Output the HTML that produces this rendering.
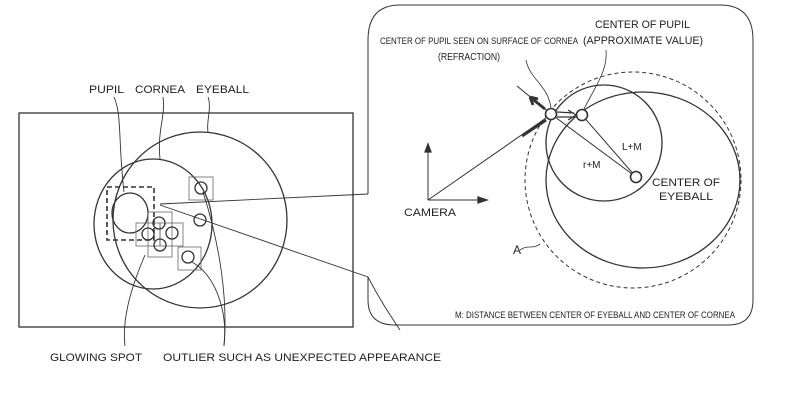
<!DOCTYPE html>
<html><head><style>
body{margin:0;background:#fff;}
svg{display:block;font-family:"Liberation Sans",sans-serif;}
</style></head><body>
<svg width="786" height="415" viewBox="0 0 786 415" xmlns="http://www.w3.org/2000/svg">
<g fill="none" stroke="#333" stroke-width="1.3">
<!-- left panel -->
<rect x="19" y="113" width="334" height="214"/>
<ellipse cx="200" cy="220" rx="87" ry="88"/>
<ellipse cx="153" cy="224" rx="59" ry="65"/>
<ellipse cx="130" cy="213" rx="18" ry="20"/>
<rect x="107" y="187" width="47" height="53" stroke-dasharray="5,3" stroke-width="1.6"/>
<g stroke-width="0.8" stroke="#666">
<rect x="189" y="177" width="24" height="23"/>
<rect x="136" y="223" width="24" height="23"/>
<rect x="148" y="212" width="24" height="45"/>
<rect x="160" y="223" width="23" height="23"/>
<rect x="178" y="247" width="23" height="23"/>
</g>
<circle cx="201" cy="188" r="6"/><circle cx="200" cy="220" r="6"/><circle cx="188" cy="257" r="6"/>
<circle cx="159" cy="223" r="6"/><circle cx="148" cy="234" r="6"/><circle cx="172" cy="233" r="6"/><circle cx="160" cy="245" r="6"/>
<!-- leaders -->
<g stroke-width="0.9">
<path d="M114 97 C122 115,118 140,124 192"/>
<path d="M163 97 C166 115,157 130,160 159"/>
<path d="M208 97 C212 108,206 122,208 132"/>
<path d="M125 346 C122 320,130 290,145 255"/>
<path d="M224 346 C228 300,220 245,203 192"/>
<path d="M224 346 C228 310,215 275,192 262"/>
<path d="M160 204 L368 194"/>
<path d="M160 205 L368 277 C380 300,390 315,400 330"/>
</g>
<!-- right panel -->
<path d="M368 194 L368 40 Q368 5 400 5 L720 5 Q753 5 753 40 L753 300 Q753 325 728 325 L395 325 Q368 325 368 300 L368 277" stroke-width="1"/>
<circle cx="633" cy="180" r="108" stroke-dasharray="4,3" stroke-width="1"/>
<ellipse cx="643" cy="180" rx="97" ry="88"/>
<circle cx="604" cy="143" r="58"/>
<!-- camera axes -->
<path d="M428 200 L428 146 M428 200 L485 200" stroke-width="1"/>
<path d="M425 152 L428 144 L431 152 Z M478 197 L487 200 L478 203 Z" fill="#333"/>
<line x1="428" y1="200" x2="546" y2="118" stroke-width="1"/>
<path d="M522 136 L546 120" stroke-width="3"/>
<line x1="551" y1="114" x2="517" y2="86" stroke-width="1"/>
<path d="M545 109 L530 97 M530 97 L533 105 M530 97 L538 99" stroke-width="2.8"/>
<path d="M557 112 L574 113 M557 117 L574 117 M568 110 L576 115 L568 120" stroke-width="1.3"/>
<line x1="551" y1="114" x2="636" y2="177" stroke-width="1"/>
<line x1="582" y1="115" x2="636" y2="177" stroke-width="1"/>
<circle cx="551" cy="114" r="5.5" fill="#fff" stroke-width="1.6"/>
<circle cx="582" cy="115" r="5.5" fill="#fff" stroke-width="1.6"/>
<circle cx="636" cy="177" r="5.5" fill="#fff" stroke-width="1.6"/>
<g stroke-width="0.8">
<path d="M526 60 C530 80,548 85,551 108"/>
<path d="M606 50 C608 70,596 85,584 109"/>
<path d="M520 250 C528 244,532 250,540 244"/>
</g>
</g>
<g fill="#222" font-size="11">
<text x="89" y="93" textLength="35" lengthAdjust="spacingAndGlyphs">PUPIL</text>
<text x="135" y="93" textLength="50" lengthAdjust="spacingAndGlyphs">CORNEA</text>
<text x="196" y="93" textLength="53" lengthAdjust="spacingAndGlyphs">EYEBALL</text>
<text x="50" y="361" textLength="92" lengthAdjust="spacingAndGlyphs">GLOWING SPOT</text>
<text x="163" y="361" textLength="278" lengthAdjust="spacingAndGlyphs">OUTLIER SUCH AS UNEXPECTED APPEARANCE</text>
<text x="404" y="216" textLength="52" lengthAdjust="spacingAndGlyphs">CAMERA</text>
<text x="595" y="28" textLength="95" lengthAdjust="spacingAndGlyphs">CENTER OF PUPIL</text>
<text x="583" y="44" textLength="120" lengthAdjust="spacingAndGlyphs">(APPROXIMATE VALUE)</text>
<text x="380" y="44" font-size="9.5" textLength="198" lengthAdjust="spacingAndGlyphs">CENTER OF PUPIL SEEN ON SURFACE OF CORNEA</text>
<text x="438" y="60" font-size="10" textLength="62" lengthAdjust="spacingAndGlyphs">(REFRACTION)</text>
<text x="622" y="150" font-size="10">L+M</text>
<text x="583" y="168" font-size="10">r+M</text>
<text x="652" y="186" textLength="68" lengthAdjust="spacingAndGlyphs">CENTER OF</text>
<text x="659" y="200" textLength="54" lengthAdjust="spacingAndGlyphs">EYEBALL</text>
<text x="513" y="254" font-size="12">A</text>
<text x="455" y="318" font-size="9" textLength="280" lengthAdjust="spacingAndGlyphs">M: DISTANCE BETWEEN CENTER OF EYEBALL AND CENTER OF CORNEA</text>
</g>
</svg>
</body></html>
